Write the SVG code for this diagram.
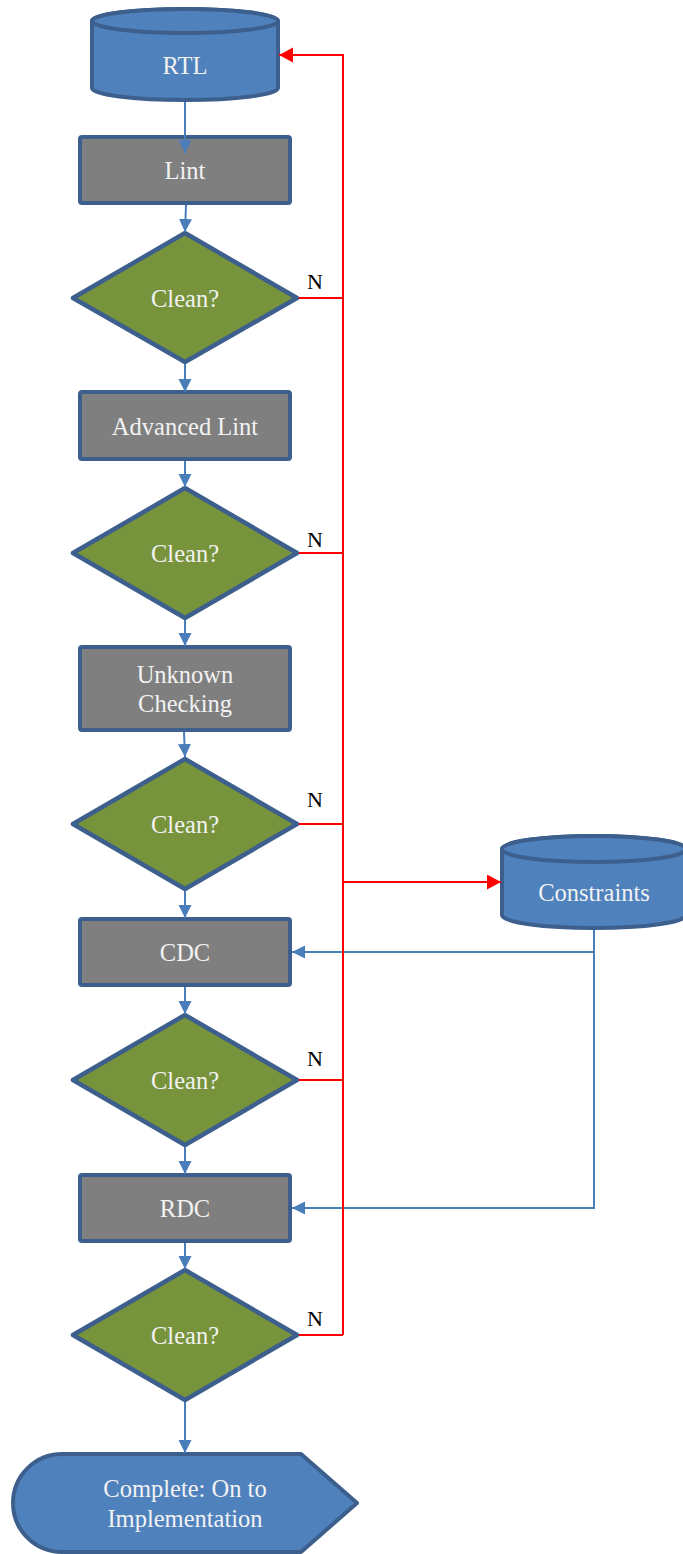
<svg xmlns="http://www.w3.org/2000/svg" width="683" height="1554" viewBox="0 0 683 1554">
<defs>
<style>
.proc{fill:#7f7f7f;stroke:#3c5f8d;stroke-width:4;}
.dec{fill:#77933c;stroke:#3c5f8d;stroke-width:4.5;stroke-linejoin:round;}
.db{fill:#4f81bd;stroke:#3c5f8d;stroke-width:4;stroke-linejoin:round;}
.lbl{font-family:'Liberation Serif',serif;font-size:24.5px;fill:#f2f2f2;text-anchor:middle;}
.n{font-family:'Liberation Serif',serif;font-size:22px;fill:#000;text-anchor:middle;}
.blue{stroke:#4a7ebb;stroke-width:2;fill:none;}
.red{stroke:#ff0000;stroke-width:2;fill:none;}
</style>
<marker id="ab" markerUnits="userSpaceOnUse" markerWidth="14" markerHeight="14" refX="13" refY="6.5" orient="auto">
<path d="M0,0 L13,6.5 L0,13 Z" fill="#4a7ebb"/>
</marker>
<marker id="ar" markerUnits="userSpaceOnUse" markerWidth="16" markerHeight="16" refX="14" refY="7.5" orient="auto">
<path d="M0,0 L14,7.5 L0,15 Z" fill="#ff0000"/>
</marker>
</defs>
<rect width="683" height="1554" fill="#ffffff"/>

<g id="rtl">
<path class="db" d="M92,21 L92,88 A93,12 0 0 0 278,88 L278,21 A93,12 0 0 0 92,21 Z"/>
<ellipse class="db" cx="185" cy="21" rx="93" ry="12"/>
<text class="lbl" x="185" y="74">RTL</text>
</g>

<g id="lint">
<rect class="proc" x="80" y="137" width="210" height="66" rx="2"/>
<text class="lbl" x="185" y="179">Lint</text>
</g>

<g id="clean1">
<polygon class="dec" points="185,233 297,298 185,362 73,298"/>
<text class="lbl" x="185" y="307">Clean?</text>
</g>

<g id="advlint">
<rect class="proc" x="80" y="392" width="210" height="67" rx="2"/>
<text class="lbl" x="185" y="435">Advanced Lint</text>
</g>

<g id="clean2">
<polygon class="dec" points="185,488 297,553 185,618 73,553"/>
<text class="lbl" x="185" y="562">Clean?</text>
</g>

<g id="unknown">
<rect class="proc" x="80" y="647" width="210" height="83" rx="2"/>
<text class="lbl" x="185" y="683">Unknown</text>
<text class="lbl" x="185" y="712">Checking</text>
</g>

<g id="clean3">
<polygon class="dec" points="185,759 297,824 185,889 73,824"/>
<text class="lbl" x="185" y="833">Clean?</text>
</g>

<g id="cdc">
<rect class="proc" x="80" y="919" width="210" height="66" rx="2"/>
<text class="lbl" x="185" y="961">CDC</text>
</g>

<g id="clean4">
<polygon class="dec" points="185,1015 297,1080 185,1145 73,1080"/>
<text class="lbl" x="185" y="1089">Clean?</text>
</g>

<g id="rdc">
<rect class="proc" x="80" y="1175" width="210" height="66" rx="2"/>
<text class="lbl" x="185" y="1217">RDC</text>
</g>

<g id="clean5">
<polygon class="dec" points="185,1270 297,1335 185,1400 73,1335"/>
<text class="lbl" x="185" y="1344">Clean?</text>
</g>

<g id="constraints">
<path class="db" d="M502,849 L502,915 A92,13 0 0 0 686,915 L686,849 A92,13 0 0 0 502,849 Z"/>
<ellipse class="db" cx="594" cy="849" rx="92" ry="13"/>
<text class="lbl" x="594" y="901">Constraints</text>
</g>

<g id="complete">
<path class="db" d="M62,1454 L301,1454 L357,1503 L301,1552 L62,1552 A49,49 0 0 1 62,1454 Z"/>
<text class="lbl" x="185" y="1497">Complete: On to</text>
<text class="lbl" x="185" y="1527">Implementation</text>
</g>

<g id="connectors">
<line class="blue" x1="185" y1="102" x2="185" y2="153" marker-end="url(#ab)"/>
<line class="blue" x1="186" y1="205" x2="185" y2="232" marker-end="url(#ab)"/>
<line class="blue" x1="185" y1="364" x2="185" y2="392" marker-end="url(#ab)"/>
<line class="blue" x1="185" y1="461" x2="185" y2="487" marker-end="url(#ab)"/>
<line class="blue" x1="185" y1="620" x2="185" y2="646" marker-end="url(#ab)"/>
<line class="blue" x1="184" y1="732" x2="185" y2="757" marker-end="url(#ab)"/>
<line class="blue" x1="185" y1="891" x2="185" y2="918" marker-end="url(#ab)"/>
<line class="blue" x1="185" y1="987" x2="185" y2="1014" marker-end="url(#ab)"/>
<line class="blue" x1="185" y1="1147" x2="185" y2="1174" marker-end="url(#ab)"/>
<line class="blue" x1="185" y1="1243" x2="185" y2="1269" marker-end="url(#ab)"/>
<line class="blue" x1="185" y1="1402" x2="185" y2="1453" marker-end="url(#ab)"/>
<polyline class="blue" points="594,930 594,952 292,952" marker-end="url(#ab)"/>
<polyline class="blue" points="594,952 594,1208 292,1208" marker-end="url(#ab)"/>
<polyline class="red" points="343,1335 343,55 279,55" marker-end="url(#ar)"/>
<line class="red" x1="299" y1="298" x2="343" y2="298"/>
<line class="red" x1="299" y1="553" x2="343" y2="553"/>
<line class="red" x1="299" y1="824" x2="343" y2="824"/>
<line class="red" x1="299" y1="1080" x2="343" y2="1080"/>
<line class="red" x1="299" y1="1335" x2="343" y2="1335"/>
<line class="red" x1="343" y1="882" x2="501" y2="882" marker-end="url(#ar)"/>
<text class="n" x="315" y="289">N</text>
<text class="n" x="315" y="547">N</text>
<text class="n" x="315" y="807">N</text>
<text class="n" x="315" y="1066">N</text>
<text class="n" x="315" y="1326">N</text>
</g>
</svg>
